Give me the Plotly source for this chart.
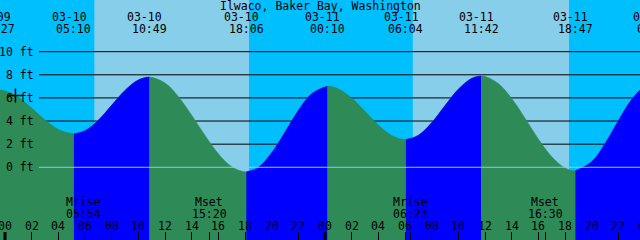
import plotly.graph_objects as go
from datetime import datetime, timedelta

# ---------------- data ----------------
TITLE = "Ilwaco, Baker Bay, Washington"
DAY0 = "2024-03-10 00:00"

# tide extremes (time, height in ft)
tide_times = ["2024-03-09 23:27", "2024-03-10 05:10", "2024-03-10 10:49", "2024-03-10 18:06",
              "2024-03-11 00:10", "2024-03-11 06:04", "2024-03-11 11:42", "2024-03-11 18:47",
              "2024-03-12 00:43"]
tide_heights = [6.7, 2.9, 7.8, -0.4, 7.0, 2.4, 7.9, -0.3, 7.3]

# hourly tide heights (ft), hour 0..48 from DAY0
hourly_heights = [6.61, 6.05, 5.12, 4.09, 3.28, 2.91, 3.16, 4.07, 5.36, 6.65,
                  7.55, 7.79, 7.28, 6.11, 4.50, 2.75, 1.17, 0.05, -0.40, -0.01,
                  1.25, 3.04, 4.91, 6.35, 6.99, 6.78, 5.99, 4.84, 3.66, 2.76,
                  2.40, 2.76, 3.85, 5.33, 6.75, 7.69, 7.86, 7.24, 5.95, 4.24,
                  2.44, 0.92, -0.06, -0.27, 0.47, 2.04, 4.02, 5.86, 7.04]

sunrise_times = ["2024-03-10 06:42", "2024-03-11 06:35"]
sunset_times = ["2024-03-10 18:18", "2024-03-11 18:18"]

moon_labels = ["Mrise", "Mset", "Mrise", "Mset"]
moon_times = ["2024-03-10 05:54", "2024-03-10 15:20", "2024-03-11 06:23", "2024-03-11 16:30"]

now_time = "2024-03-10 00:47"
now_height = 6.2

height_ticks = [0, 2, 4, 6, 8, 10]
hour_ticks = list(range(0, 49, 2))
hour_tick_labels = ["%02d" % (h % 24) for h in hour_ticks]
midnight_hours = [0, 24, 48]

# ---------------- style ----------------
W, H = 640, 240
NIGHT = "#00BFFF"
DAY = "#87CEEB"
RISE = "#0000FF"
FALL = "#2E8B57"
FONT = "DejaVu Sans Mono"
FS = 11.5
Y_RANGE = [-6.29, 14.47]
Y_FLOOR = -8


def dt(s):
    return datetime.strptime(s, "%Y-%m-%d %H:%M")


t0 = dt(DAY0)
x_start = t0 - timedelta(minutes=22, seconds=30)
x_end = x_start + timedelta(hours=48)
span = (x_end - x_start).total_seconds()


def to_paper(t):
    return (t - x_start).total_seconds() / span


def py(px):
    return 1 - px / H


fig = go.Figure()

hourly = [(t0 + timedelta(hours=i), v) for i, v in enumerate(hourly_heights)]
extremes = [(dt(s), v) for s, v in zip(tide_times, tide_heights)]
GAP = timedelta(minutes=15)


def near_extreme(t):
    return any(abs(t - te) <= GAP for te, _ in extremes)


# whole curve (falling colour underneath)
all_pts = sorted(extremes + [(t, v) for t, v in hourly if not near_extreme(t)])
ax_ = [p[0] for p in all_pts]
ay_ = [p[1] for p in all_pts]
fig.add_trace(go.Scatter(x=ax_, y=[Y_FLOOR] * len(ax_), mode="lines",
                         line=dict(width=0, color=FALL), hoverinfo="skip", showlegend=False))
fig.add_trace(go.Scatter(x=ax_, y=ay_, mode="lines",
                         line=dict(width=0.6, color=FALL, shape="spline"),
                         fill="tonexty", fillcolor=FALL, hoverinfo="skip", showlegend=False))

# rising segments on top
for k in range(len(extremes) - 1):
    (ta, va), (tb, vb) = extremes[k], extremes[k + 1]
    if vb <= va:
        continue
    pts = [(ta, va)] + [(t, v) for t, v in hourly if ta + GAP < t < tb - GAP] + [(tb, vb)]
    xs = [p[0] for p in pts]
    ys = [p[1] for p in pts]
    fig.add_trace(go.Scatter(x=xs, y=[Y_FLOOR] * len(xs), mode="lines",
                             line=dict(width=0, color=RISE), hoverinfo="skip", showlegend=False))
    fig.add_trace(go.Scatter(x=xs, y=ys, mode="lines",
                             line=dict(width=0.6, color=RISE, shape="spline"),
                             fill="tonexty", fillcolor=RISE, hoverinfo="skip", showlegend=False))

# "now" marker
fig.add_trace(go.Scatter(x=[dt(now_time)], y=[now_height], mode="markers",
                         marker=dict(symbol="cross-thin", size=10, line=dict(color="black", width=1.5)),
                         hoverinfo="skip", showlegend=False))

shapes = []
# daylight bands
for sr, ss in zip(sunrise_times, sunset_times):
    shapes.append(dict(type="rect", xref="x", yref="paper", x0=dt(sr), x1=dt(ss), y0=0, y1=1,
                       fillcolor=DAY, line=dict(width=0), layer="below"))
# grid lines
for v in height_ticks:
    if v == 0:
        shapes.append(dict(type="line", xref="paper", yref="y", x0=39 / W, x1=1, y0=v, y1=v,
                           line=dict(color=DAY, width=1), layer="above"))
    else:
        shapes.append(dict(type="line", xref="paper", yref="y", x0=39 / W, x1=1, y0=v, y1=v,
                           line=dict(color="black", width=1), layer="below"))
# bold midnight ticks
for h in midnight_hours:
    shapes.append(dict(type="line", xref="x", yref="paper", x0=t0 + timedelta(hours=h),
                       x1=t0 + timedelta(hours=h), y0=0, y1=8 / H,
                       line=dict(color="black", width=3), layer="above"))

ann = []
ann.append(dict(text=TITLE, xref="paper", yref="paper", x=0.5, y=py(6), showarrow=False,
                xanchor="center", yanchor="middle"))
for s in tide_times:
    t = dt(s)
    ann.append(dict(text=t.strftime("%m-%d"), xref="paper", yref="paper", x=to_paper(t), y=py(17.5),
                    xshift=-4.5, showarrow=False, xanchor="center", yanchor="middle"))
    ann.append(dict(text=t.strftime("%H:%M"), xref="paper", yref="paper", x=to_paper(t), y=py(29),
                    showarrow=False, xanchor="center", yanchor="middle"))
for lab, s in zip(moon_labels, moon_times):
    t = dt(s)
    ann.append(dict(text=lab, xref="paper", yref="paper", x=to_paper(t), y=py(202),
                    showarrow=False, xanchor="center", yanchor="middle"))
    ann.append(dict(text=t.strftime("%H:%M"), xref="paper", yref="paper", x=to_paper(t), y=py(213.5),
                    showarrow=False, xanchor="center", yanchor="middle"))
for h, lab in zip(hour_ticks, hour_tick_labels):
    ann.append(dict(text=lab, xref="paper", yref="paper", x=to_paper(t0 + timedelta(hours=h)), y=py(226),
                    showarrow=False, xanchor="center", yanchor="middle"))
for v in height_ticks:
    ann.append(dict(text="%d ft" % v, xref="paper", yref="y", x=35.5 / W, y=v,
                    showarrow=False, xanchor="right", yanchor="middle"))

tickvals = [t0 + timedelta(hours=h) for h in hour_ticks] + [dt(s) for s in moon_times]

fig.update_layout(
    width=W, height=H, margin=dict(l=0, r=0, t=0, b=0),
    paper_bgcolor=NIGHT, plot_bgcolor=NIGHT,
    font=dict(family=FONT, size=FS, color="black"),
    shapes=shapes, annotations=ann, showlegend=False, hovermode=False,
    xaxis=dict(type="date", range=[x_start, x_end], showgrid=False, zeroline=False, showline=False,
               tickmode="array", tickvals=tickvals, ticks="inside", ticklen=8, tickwidth=1,
               tickcolor="black", showticklabels=False, fixedrange=True),
    yaxis=dict(range=Y_RANGE, showgrid=False, zeroline=False, showline=False,
               showticklabels=False, ticks="", fixedrange=True),
)

fig.write_html("out.html", config={"displayModeBar": False})
